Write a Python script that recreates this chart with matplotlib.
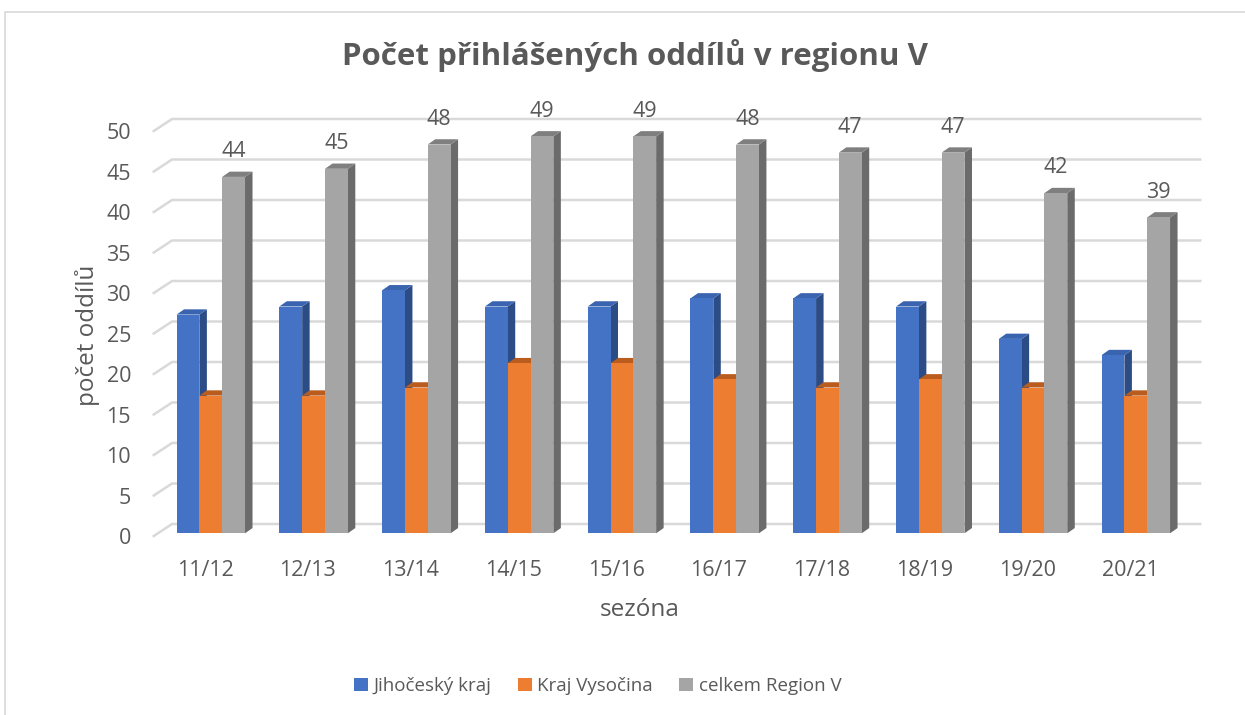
import matplotlib
matplotlib.use('Agg')
import matplotlib.pyplot as plt
from matplotlib.patches import Polygon, Rectangle, Patch

plt.rcParams['font.family'] = ['Open Sans', 'DejaVu Sans']

# Data
seasons = ['11/12', '12/13', '13/14', '14/15', '15/16',
           '16/17', '17/18', '18/19', '19/20', '20/21']
jihocesky = [27, 28, 30, 28, 28, 29, 29, 28, 24, 22]
vysocina = [17, 17, 18, 21, 21, 19, 18, 19, 18, 17]
celkem = [44, 45, 48, 49, 49, 48, 47, 47, 42, 39]
series_names = ['Jihočeský kraj', 'Kraj Vysočina', 'celkem Region V']
y_ticks = list(range(0, 55, 5))

# colours: front, top, side
colors = [('#4472C4', '#3A64B0', '#2C4C85'),
          ('#ED7D31', '#BA5C1E', '#AE561C'),
          ('#A5A5A5', '#7F7F7F', '#6B6B6B')]
text_col = '#595959'
grid_col = '#D9D9D9'

# 3D look
bar_w = 0.222
dx, dy = 0.073, 0.65
back_off = 1.15

fig = plt.figure(figsize=(12.45, 7.15), dpi=100)
ax = fig.add_axes([0.08675, 0.18615, 0.8916, 0.65706])
ax.set_xlim(-1.0, 9.8)
ax.set_ylim(-6, 52)
ax.axis('off')

# chart border
fig.patches.append(Rectangle((5 / 1245, -0.05), 1.1, 1 - 12 / 715 + 0.05,
                             transform=fig.transFigure, fill=False,
                             edgecolor='#D9D9D9', lw=1.2))

# gridlines (side wall + back wall)
for v in y_ticks:
    ax.plot([-0.565, -0.377, 9.639], [v - 0.42, v + back_off, v + back_off],
            color=grid_col, lw=1.8, zorder=1, solid_capstyle='butt')
    ax.text(-0.776, v - 0.7, str(v), ha='right', va='center',
            fontsize=15.5, color=text_col)

# bars
all_series = [jihocesky, vysocina, celkem]
z = 2
for i in range(len(seasons)):
    for s, vals in enumerate(all_series):
        v = vals[i]
        x0 = i - 1.5 * bar_w + s * bar_w
        x1 = x0 + bar_w
        front, top, side = colors[s]
        ax.add_patch(Polygon([(x1, 0), (x1 + dx, dy), (x1 + dx, v + dy), (x1, v)],
                             closed=True, facecolor=side, edgecolor='none', zorder=z))
        ax.add_patch(Polygon([(x0, v), (x0 + dx, v + dy), (x1 + dx, v + dy), (x1, v)],
                             closed=True, facecolor=top, edgecolor='none', zorder=z))
        ax.add_patch(Rectangle((x0, 0), bar_w, v, facecolor=front,
                               edgecolor='none', zorder=z + 0.5))
        z += 1
    # value label on the total bar
    xg = i + bar_w
    ax.text(xg, celkem[i] + 3.1, str(celkem[i]), ha='center', va='center',
            fontsize=15.5, color=text_col, zorder=100)
    ax.text(i - 0.057, -4.62, seasons[i], ha='center', va='center',
            fontsize=15.5, color=text_col)

fig.text(0.51, 1 - 55 / 715, 'Počet přihlášených oddílů v regionu V',
         ha='center', va='center', fontsize=22.5, fontweight='bold', color=text_col)
fig.text(88 / 1245, 1 - 335 / 715, 'počet oddílů', rotation=90,
         ha='center', va='center', fontsize=17.5, color=text_col)
fig.text(640 / 1245, 1 - 610 / 715, 'sezóna', ha='center', va='center',
         fontsize=17.5, color=text_col)

handles = [Patch(facecolor=c[0], edgecolor='none') for c in colors]
fig.legend(handles, series_names, loc='center', bbox_to_anchor=(0.48, 1 - 686 / 715),
           ncol=3, frameon=False, fontsize=13.5, labelcolor=text_col,
           handlelength=0.75, handleheight=0.75, handletextpad=0.3,
           columnspacing=1.4)

fig.savefig('out.png', dpi=100)
